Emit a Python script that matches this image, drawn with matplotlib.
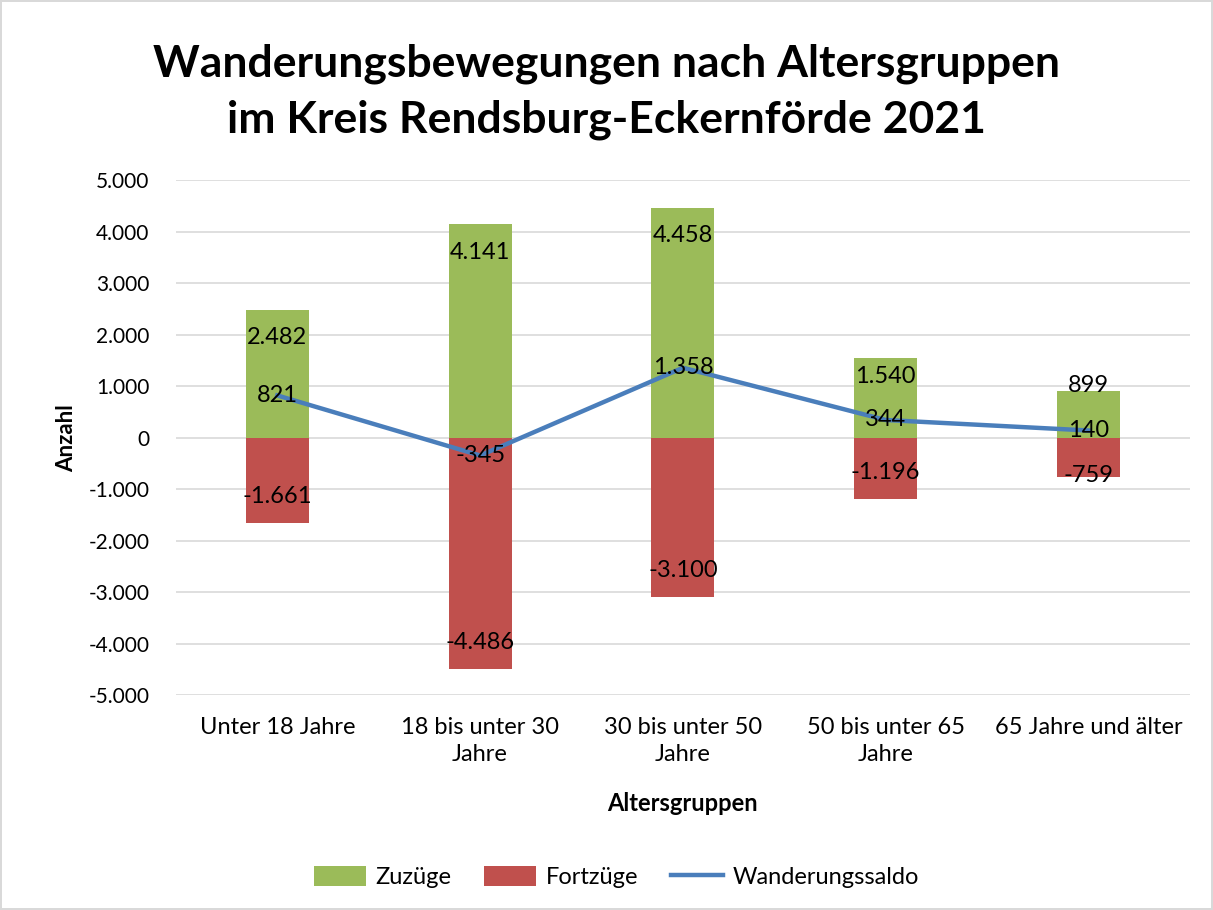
import numpy as np
import matplotlib as mpl
import matplotlib.pyplot as plt
from matplotlib.ticker import FuncFormatter

#Daten
gruppen=['Unter 18 Jahre','18 bis unter 30\nJahre','30 bis unter 50\nJahre','50 bis unter 65\nJahre','65 Jahre und älter']
zuzuege=[2482,4141,4458,1540,899]
fortzuege=[-1661,-4486,-3100,-1196,-759]
saldo=[821,-345,1358,344,140]

def de(v):
    #Tausenderpunkt wie im Original
    return '{:,.0f}'.format(v).replace(',','.')

mpl.rcParams['font.family']=['Lato','DejaVu Sans']

fig=plt.figure(figsize=(12.13,9.10),dpi=100)
fig.patch.set_edgecolor('#D9D9D9')
fig.patch.set_linewidth(1.5)
ax=fig.add_axes((0.145,0.236,0.981-0.145,0.802-0.236))

x=np.arange(len(gruppen))
b1=ax.bar(x,zuzuege,width=0.31,color='#9BBB59',label='Zuzüge',zorder=2)
b2=ax.bar(x,fortzuege,width=0.31,color='#C0504D',label='Fortzüge',zorder=2)
l1,=ax.plot(x,saldo,color='#4A7EBB',linewidth=3.2,label='Wanderungssaldo',zorder=3)

#Beschriftungen (Versatz in Punkten)
off_z=[-20,-20,-20,-13,4]
off_f=[19,19,19,19,1]
for i in range(len(x)):
    ax.annotate(de(zuzuege[i]),(x[i],zuzuege[i]),xytext=(0,off_z[i]),textcoords='offset points',
                ha='center',va='center',fontsize=17,zorder=4)
    ax.annotate(de(fortzuege[i]),(x[i],fortzuege[i]),xytext=(0,off_f[i]),textcoords='offset points',
                ha='center',va='center',fontsize=17,zorder=4)
    ax.annotate(de(saldo[i]),(x[i],saldo[i]),xytext=(0,0),textcoords='offset points',
                ha='center',va='center',fontsize=17,zorder=4)

ax.set_xlim(-0.5,4.5)
ax.set_ylim(-5000,5000)
ax.set_yticks(np.arange(-5000,5001,1000))
ax.yaxis.set_major_formatter(FuncFormatter(lambda v,p: de(v)))
ax.set_xticks(x)
ax.set_xticklabels(gruppen,fontsize=17,linespacing=1.35)
ax.tick_params(axis='y',labelsize=15,length=0,pad=19)
ax.tick_params(axis='x',length=0,pad=16)
ax.grid(axis='y',color='#D9D9D9',linewidth=1.2,zorder=0)
for s in ax.spines.values():
    s.set_visible(False)

ax.set_ylabel('Anzahl',fontsize=16,fontweight='bold',labelpad=8)
ax.set_xlabel('Altersgruppen',fontsize=17,fontweight='bold',labelpad=19)

fig.suptitle('Wanderungsbewegungen nach Altersgruppen\nim Kreis Rendsburg-Eckernförde 2021',
             fontsize=32,fontweight='bold',y=0.952,linespacing=1.45)

leg=fig.legend([b1,b2,l1],['Zuzüge','Fortzüge','Wanderungssaldo'],loc='center',
               bbox_to_anchor=(0.508,0.036),ncol=3,frameon=False,fontsize=17,
               handlelength=2.2,handleheight=0.9,columnspacing=1.4,handletextpad=0.4)

fig.savefig('out.png',dpi=100)
